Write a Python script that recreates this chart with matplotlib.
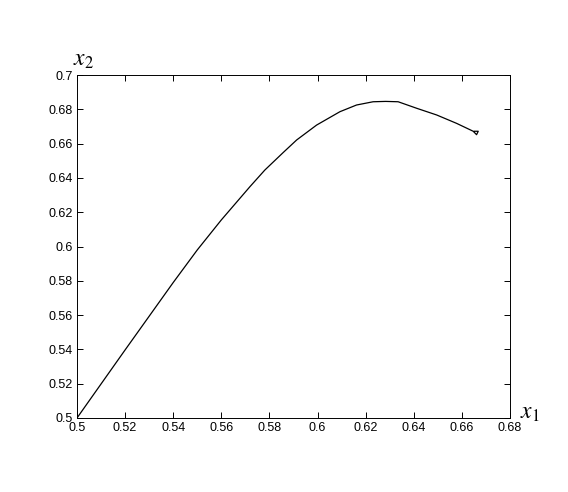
import numpy as np
import matplotlib.pyplot as plt

plt.rcParams['font.family'] = ['Liberation Sans', 'DejaVu Sans']
plt.rcParams['mathtext.fontset'] = 'stix'

# curve (ends with a small hook)
x1 = [0.5, 0.52, 0.54, 0.55, 0.56, 0.5719, 0.5781, 0.5858, 0.5913, 0.5996,
      0.6093, 0.6162, 0.6231, 0.6283, 0.6335, 0.6412, 0.6495, 0.6578, 0.6647,
      0.6661, 0.6668, 0.6652]
x2 = [0.5, 0.5397, 0.579, 0.598, 0.6155, 0.6349, 0.6446, 0.6549, 0.6621, 0.6708,
      0.6786, 0.6825, 0.6844, 0.6846, 0.6844, 0.6806, 0.6767, 0.6718, 0.6672,
      0.6652, 0.6672, 0.6672]

xticks = [0.5, 0.52, 0.54, 0.56, 0.58, 0.6, 0.62, 0.64, 0.66, 0.68]
yticks = [0.5, 0.52, 0.54, 0.56, 0.58, 0.6, 0.62, 0.64, 0.66, 0.68, 0.7]

fig = plt.figure(figsize=(5.68, 4.92), dpi=100)
ax = fig.add_axes([77/568, 1 - 418/492, (510-77)/568, (418-75)/492])
ax.plot(x1, x2, color='black', lw=0.9)

ax.set_xlim(0.5, 0.68)
ax.set_ylim(0.5, 0.7)
ax.set_xticks(xticks)
ax.set_yticks(yticks)
ax.set_xticklabels(['%g' % v for v in xticks])
ax.set_yticklabels(['%g' % v for v in yticks])
ax.tick_params(direction='in', top=True, right=True, length=4, width=0.7,
               labelsize=9, pad=3)
for s in ax.spines.values():
    s.set_linewidth(0.7)

fig.text(83/568, 1 - 60/492, r'$x_2$', fontsize=17, ha='center', va='center')
fig.text(530/568, 1 - 413/492, r'$x_1$', fontsize=17, ha='center', va='center')

fig.savefig('out.png', dpi=100)
